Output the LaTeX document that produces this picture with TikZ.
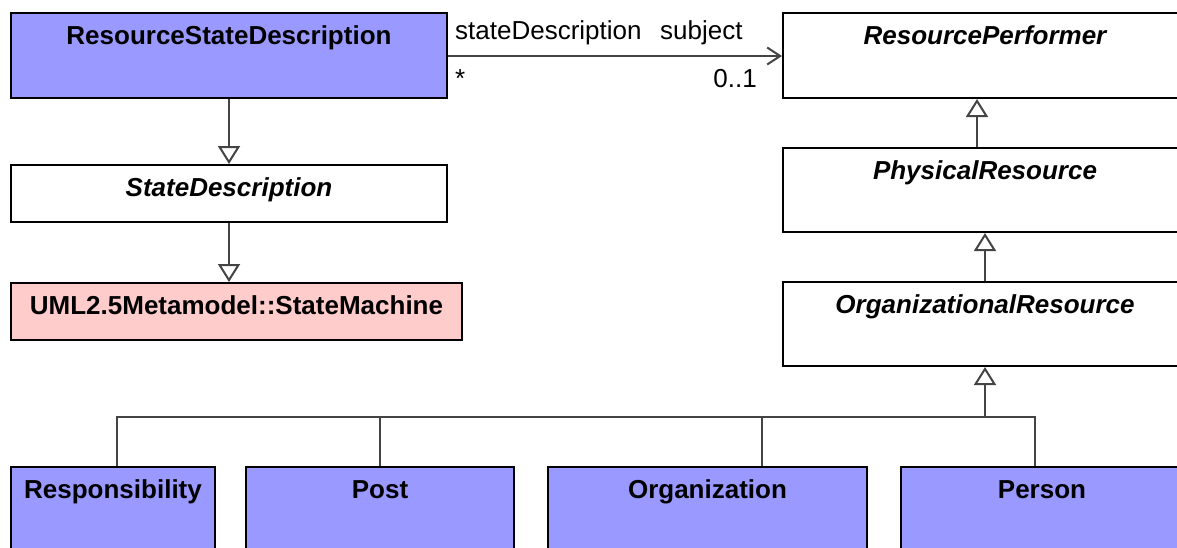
\documentclass[tikz,border=0pt]{standalone}
\usepackage{fontspec}
\setmainfont{Liberation Sans}
\usetikzlibrary{calc, positioning}
\usetikzlibrary{arrows.meta}
\definecolor{classblue}{RGB}{153,153,255}
\definecolor{extpink}{RGB}{255,204,204}
\definecolor{linkgray}{RGB}{68,68,68}

\begin{document}
\begin{tikzpicture}[x=1pt, y=-1pt,
  classbox/.style 2 args={draw=black, line width=2pt, anchor=north west, inner sep=0pt,
    minimum width=#1, text height=31.5pt, text depth=#2,
    font=\fontsize{26}{30}\selectfont\bfseries},
  abstract/.style={font=\fontsize{26}{30}\selectfont\bfseries\itshape},
  gen/.style={draw=linkgray, line width=2pt, -{Triangle[length=18pt,width=22pt,fill=white]}},
  genline/.style={draw=linkgray, line width=2pt},
  assoc/.style={draw=linkgray, line width=2pt, -{Straight Barb[length=13pt,width=17pt]}},
  rolelabel/.style={inner sep=0pt, font=\fontsize{26}{30}\selectfont}]
\useasboundingbox (0,0) rectangle (1177,547);

% classes
\node[classbox={436pt}{53.5pt}, fill=classblue] (rsd) at (10,12) {ResourceStateDescription};
\node[classbox={436pt}{25.5pt}, abstract] (sd) at (10,164) {StateDescription};
\node[classbox={451pt}{25.5pt}, fill=extpink] (uml) at (10,282) {UML2.5Metamodel::StateMachine};
\node[classbox={404pt}{53.5pt}, abstract] (rp) at (782,12) {ResourcePerformer};
\node[classbox={404pt}{52.5pt}, abstract] (pr) at (782,147) {PhysicalResource};
\node[classbox={404pt}{52.5pt}, abstract] (orgres) at (782,281) {OrganizationalResource};
\node[classbox={204pt}{62.5pt}, fill=classblue] (resp) at (10,466) {Responsibility};
\node[classbox={268pt}{62.5pt}, fill=classblue] (post) at (245,466) {Post};
\node[classbox={319pt}{62.5pt}, fill=classblue] (org) at (547,466) {Organization};
\node[classbox={282pt}{62.5pt}, fill=classblue] (person) at (900,466) {Person};

% generalizations
\draw[gen] (rsd.south) -- (sd.north);
\draw[gen] (sd.south) -- (sd.south |- uml.north);
\draw[gen] ([xshift=-8pt]pr.north) -- ([xshift=-8pt]pr.north |- rp.south);
\draw[gen] (orgres.north) -- (pr.south);
\coordinate (bus) at ($(orgres.south)+(0,50)$);
\draw[gen] (bus) -- (orgres.south);
\draw[genline] ([xshift=4pt]resp.north) |- (bus);
\draw[genline] (post.north) |- (bus);
\draw[genline] ([xshift=54.5pt]org.north) |- (bus);
\draw[genline] ([xshift=-7pt]person.north) |- (bus);

% association
\coordinate (assocy) at (0,56);
\draw[assoc] (rsd.east |- assocy) -- (rp.west |- assocy);
\node[rolelabel, anchor=base west] (srcrole) at (455,39) {stateDescription};
\node[rolelabel, anchor=base west] (tgtrole) at (660,39) {subject};
\node[rolelabel, anchor=base west] (srcmult) at (455,87) {*};
\node[rolelabel, anchor=base east] (tgtmult) at (757,87) {0..1};
\end{tikzpicture}
\end{document}
